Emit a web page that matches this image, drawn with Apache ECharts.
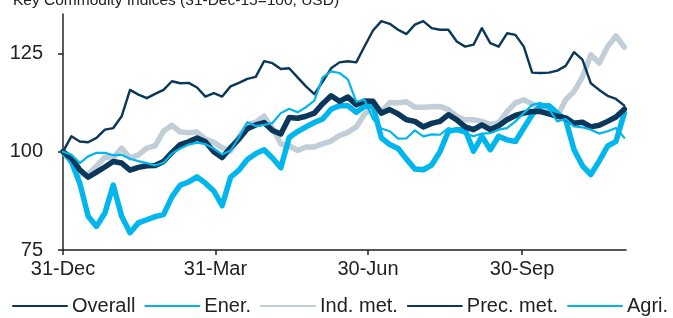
<!DOCTYPE html>
<html>
<head>
<meta charset="utf-8">
<script src="https://cdn.jsdelivr.net/npm/echarts@6/dist/echarts.min.js"></script>
<style>
html,body{margin:0;padding:0;background:#fff}
#chart{width:673px;height:318px}
</style>
</head>
<body>
<div id="chart"></div>
<script>
// days since 31-Dec-15
var days = [0,5,10,15,20,25,30,35,40,45,50,55,60,65,70,75,80,85,90,95,100,105,110,115,120,125,130,135,140,145,150,155,160,165,170,175,180,185,190,195,200,205,210,215,220,225,230,235,240,245,250,255,260,265,270,275,280,285,290,295,300,305,310,315,320,325,330,335];
var tickDays = [0, 91, 182, 274];
var tickLabels = ['31-Dec', '31-Mar', '30-Jun', '30-Sep'];
var yTicks = [75, 100, 125];

var overall = [100,98.4,95.4,93.5,94.8,96.1,97.5,97.1,95.3,96.0,96.4,96.5,97.5,99.8,101.8,102.5,103.5,102.5,100.0,98.5,101.0,103.2,105.8,106.8,107.4,105.4,104.5,108.7,108.5,109.0,109.8,112.2,114.2,112.8,113.9,111.9,112.9,112.8,109.8,110.7,109.6,108.1,107.7,106.3,107.2,107.7,109.4,108.1,106.3,105.6,106.8,105.6,106.6,108.1,109.2,109.8,110.2,110.2,109.6,109.0,108.6,107.2,107.5,106.3,106.7,107.7,108.8,110.8];
var ener = [100,97.5,92.0,83.6,81.0,84.4,91.5,83.6,79.4,81.9,82.7,83.5,84.0,88.5,91.5,92.3,93.6,92.0,90.0,86.3,93.5,95.3,98.0,99.5,100.5,98.4,95.9,103.6,105.1,106.3,107.4,108.3,110.8,111.7,111.7,110.0,111.5,111.7,103.5,101.8,100.8,98.1,95.6,95.4,96.6,100.0,105.2,105.6,105.6,100.1,103.9,100.5,103.9,103.0,102.6,106.0,109.4,111.7,111.7,109.8,108.1,100.5,96.4,94.2,97.6,101.4,102.6,109.8];
var indMet = [100,97.5,94.4,94.2,96.3,98.6,98.4,100.9,98.4,99.2,100.9,101.5,105.2,106.7,105.0,104.8,105.0,103.2,102.4,101.0,100.2,103.8,106.8,107.5,109.0,106.0,102.0,101.5,100.3,101.2,101.2,102.0,102.7,104.1,104.9,106.3,109.6,111.1,110.2,112.5,112.4,112.7,111.3,111.3,111.4,111.5,110.7,109.0,108.1,108.1,107.7,106.9,107.3,110.2,112.4,113.2,112.1,111.1,110.0,109.0,113.2,115.3,119.0,124.6,122.5,126.7,129.4,126.6];
var precMet = [100,103.9,102.6,102.4,103.5,105.6,106.0,109.0,115.7,114.5,113.6,114.7,115.7,117.9,117.4,117.5,116.3,114.0,114.9,114.0,116.6,117.5,118.5,119.0,123.0,122.5,121.0,121.2,118.9,116.6,114.6,117.8,121.2,122.7,123.0,122.7,126.8,130.8,133.2,132.5,131.0,129.9,132.3,133.2,131.4,131.0,131.0,128.0,126.7,127.2,131.4,127.6,126.7,130.1,129.7,126.7,120.1,120.0,120.1,120.6,121.8,125.3,123.4,117.4,115.7,114.2,113.4,111.7];
var agri = [100,99.2,97.1,98.8,99.7,99.7,99.1,99.2,98.2,97.6,97.1,96.5,97.2,99.5,100.8,101.8,102.3,101.9,100.8,99.3,100.3,103.6,107.5,106.5,106.8,107.3,109.8,110.9,110.0,111.3,113.0,118.9,120.4,120.0,118.4,112.7,113.2,108.3,105.9,105.2,103.3,103.4,105.4,103.9,104.4,104.3,106.0,105.2,104.6,103.9,104.6,104.7,105.6,106.0,107.7,109.8,111.9,112.4,110.8,107.7,108.3,106.4,106.2,105.6,104.6,105.2,106.0,103.5];

var NAVY = '#0a375a', BLUE = '#00b6ec', GREY = '#c2ced7';
var FONT = 'Liberation Sans';

function pairs(vals) {
    return vals.map(function (v, i) { return [days[i], v]; });
}

function lineSeries(name, vals, color, width, z) {
    return {
        name: name,
        type: 'line',
        data: pairs(vals),
        symbol: 'none',
        z: z,
        color: color,
        lineStyle: { color: color, width: width, cap: 'round', join: 'round' }
    };
}

var chart = echarts.init(document.getElementById('chart'));
chart.setOption({
    animation: false,
    title: {
        text: 'Key Commodity Indices (31-Dec-15=100, USD)',
        left: 13, top: -7, padding: 0,
        textStyle: { fontFamily: FONT, fontSize: 15.5, fontWeight: 'normal', color: '#222' }
    },
    grid: { left: 63, right: 47, top: 14, bottom: 68 },
    legend: {
        left: 12, top: 296, padding: 0,
        itemWidth: 54, itemHeight: 10, itemGap: 9,
        itemStyle: { opacity: 0 },
        textStyle: { fontFamily: FONT, fontSize: 20, color: '#222' },
        data: ['Overall', 'Ener.', 'Ind. met.', 'Prec. met.', 'Agri.']
    },
    xAxis: {
        type: 'value', min: 0, max: 336,
        axisLine: { lineStyle: { color: '#222', width: 1.5 } },
        axisTick: { customValues: tickDays, length: 5, lineStyle: { color: '#222', width: 1.5 } },
        axisLabel: {
            customValues: tickDays, margin: 9,
            fontFamily: FONT, fontSize: 20, color: '#222',
            formatter: function (v) { return tickLabels[tickDays.indexOf(v)] || ''; }
        },
        splitLine: { show: false }
    },
    yAxis: {
        type: 'value', min: 75, max: 135,
        axisLine: { show: true, lineStyle: { color: '#222', width: 1.5 } },
        axisTick: { show: true, customValues: yTicks, length: 5, lineStyle: { color: '#222', width: 1.5 } },
        axisLabel: { customValues: yTicks, margin: 20, fontFamily: FONT, fontSize: 20, color: '#222' },
        splitLine: { show: false }
    },
    series: [
        lineSeries('Ind. met.', indMet, GREY, 5.5, 1),
        lineSeries('Ener.', ener, BLUE, 5.5, 2),
        lineSeries('Overall', overall, NAVY, 5.5, 3),
        lineSeries('Prec. met.', precMet, NAVY, 2.4, 4),
        lineSeries('Agri.', agri, BLUE, 2.2, 5)
    ]
});
</script>
</body>
</html>
